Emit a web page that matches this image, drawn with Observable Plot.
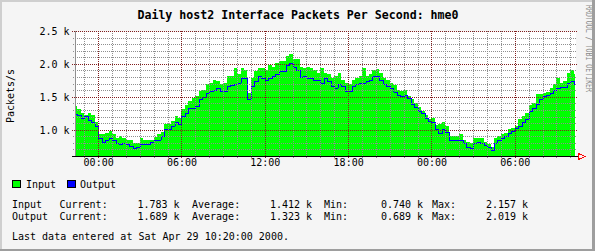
<!DOCTYPE html>
<html><head><meta charset="utf-8">
<script src="https://cdn.jsdelivr.net/npm/d3@7"></script>
<script src="https://cdn.jsdelivr.net/npm/@observablehq/plot@0.6"></script>
<style>html,body{margin:0;padding:0;background:#F5F5F5;} svg{display:block}</style>
</head><body><div id="chart"></div>
<script>
// ---- data ----
const title = "Daily host2 Interface Packets Per Second: hme0";
const yLabel = "Packets/s";
const watermark = "RRDTOOL / TOBI OETIKER";
const seriesNames = ["Input", "Output"];
const seriesColors = ["#00FF00", "#0000FF"];
const firstSample = new Date(2000, 3, 27, 22, 15);   // 15-minute samples
const sampleMinutes = 15;
const domainStart = new Date(2000, 3, 27, 22, 20);
const domainEnd = new Date(2000, 3, 29, 10, 20);
// packets per second, in thousands
const inputK = [
  1.36,1.31,1.26,1.23,1.26,1.23,1.11,0.93,0.93,0.95,0.98,0.93,0.88,0.90,0.88,0.85,
  0.84,0.80,0.80,0.88,0.85,0.84,0.85,0.89,0.93,0.97,1.08,1.08,1.13,1.21,1.18,1.31,
  1.38,1.43,1.48,1.51,1.59,1.61,1.69,1.71,1.75,1.74,1.69,1.71,1.81,1.81,1.94,1.84,
  1.94,1.91,1.56,1.79,1.89,1.94,1.94,1.91,1.99,1.96,2.02,2.04,2.04,2.12,2.157,2.07,
  2.07,1.96,1.94,1.96,1.94,1.91,1.86,1.94,1.86,1.84,1.79,1.81,1.86,1.76,1.71,1.69,
  1.76,1.79,1.81,1.94,1.81,1.85,1.91,1.93,1.86,1.79,1.76,1.71,1.68,1.61,1.59,
  1.60,1.51,1.46,1.41,1.34,1.28,1.23,1.17,1.18,1.07,1.08,1.11,1.06,0.90,0.90,0.90,
  0.93,0.85,0.82,0.80,0.87,0.88,0.87,0.82,0.79,0.74,0.87,0.90,0.93,0.95,1.01,1.03,
  1.06,1.16,1.21,1.26,1.38,1.41,1.54,1.54,1.56,1.58,1.64,1.70,1.78,1.71,1.74,1.86,
  1.90,1.84,1.78
];
const outputK = [
  1.24,1.22,1.18,1.21,1.14,1.11,1.06,0.88,0.82,0.85,0.88,0.85,0.80,0.79,0.80,0.78,
  0.75,0.72,0.74,0.79,0.78,0.79,0.82,0.84,0.85,0.90,1.01,1.01,1.06,1.11,1.09,1.21,
  1.26,1.33,1.33,1.36,1.46,1.49,1.56,1.59,1.60,1.64,1.59,1.59,1.66,1.68,1.69,1.71,
  1.79,1.79,1.46,1.66,1.74,1.81,1.79,1.76,1.79,1.81,1.85,1.89,1.89,1.98,2.019,1.95,
  1.91,1.80,1.81,1.79,1.79,1.75,1.76,1.71,1.79,1.74,1.66,1.64,1.69,1.66,1.59,1.59,
  1.66,1.69,1.71,1.71,1.74,1.76,1.81,1.81,1.76,1.70,1.66,1.64,1.58,1.53,1.51,
  1.53,1.48,1.39,1.34,1.28,1.26,1.18,1.13,1.11,1.01,0.95,1.01,0.97,0.85,0.85,0.84,
  0.84,0.80,0.74,0.72,0.80,0.82,0.80,0.77,0.74,0.69,0.80,0.85,0.88,0.90,0.95,0.98,
  1.03,1.06,1.11,1.16,1.28,1.33,1.39,1.46,1.51,1.53,1.56,1.60,1.64,1.65,1.65,1.71,
  1.74,1.69,1.69
];
const yMin = 0.6, yMax = 2.5;
const yMajorTicks = [1.0, 1.5, 2.0, 2.5];
const xMajorTicks = [new Date(2000,3,28,0), new Date(2000,3,28,6), new Date(2000,3,28,12),
                     new Date(2000,3,28,18), new Date(2000,3,29,0), new Date(2000,3,29,6)];
const xTickLabels = ["00:00","06:00","12:00","18:00","00:00","06:00"];
const statLabels = ["Current:", "Average:", "Min:", "Max:"];
const inputStats = ["1.783 k", "1.412 k", "0.740 k", "2.157 k"];
const outputStats = ["1.689 k", "1.323 k", "0.689 k", "2.019 k"];
const lastUpdate = "Last data entered at Sat Apr 29 10:20:00 2000.";

// ---- build ----
const data = inputK.map((v, i) => ({
  t: new Date(firstSample.getTime() + i * sampleMinutes * 60000),
  input: v, output: outputK[i]
}));
const yMinor = d3.range(Math.round(yMin*10), Math.round(yMax*10)+1).map(d => d/10)
  .filter(d => !yMajorTicks.some(m => Math.abs(m-d) < 1e-9));
const majorSet = new Set(xMajorTicks.map(d => +d));
const xMinor = d3.timeHour.range(domainStart, domainEnd).filter(d => !majorSet.has(+d));

const MONO = "DejaVu Sans Mono";
const GRID = "#8F8F8F", MGRID = "#821E1E";

const plot = Plot.plot({
  width: 595, height: 251,
  marginLeft: 75, marginRight: 20, marginTop: 31, marginBottom: 95,
  x: {type: "time", domain: [domainStart, domainEnd], axis: null},
  y: {domain: [yMin, yMax], axis: null},
  style: {background: "#F5F5F5", fontFamily: MONO, fontSize: "10px", color: "black", shapeRendering: "crispEdges"},
  marks: [
    Plot.frame({fill: "#FFFFFF", stroke: "none"}),
    Plot.areaY(data, {x: "t", y1: yMin, y2: "input", curve: "step-after", fill: seriesColors[0], clip: true}),
    Plot.lineY(data, {x: "t", y: "output", curve: "step-after", stroke: seriesColors[1], strokeWidth: 1, clip: true}),
    Plot.ruleY(yMinor, {y: d => d, stroke: GRID, strokeDasharray: "1,1", insetLeft: -2, insetRight: -2}),
    Plot.ruleX(xMinor, {x: d => d, stroke: GRID, strokeDasharray: "1,1", insetBottom: -3}),
    Plot.ruleY(yMajorTicks, {y: d => d, stroke: MGRID, strokeDasharray: "1,1", insetLeft: -3, insetRight: -3}),
    Plot.ruleX(xMajorTicks, {x: d => d, stroke: MGRID, strokeDasharray: "1,1", insetBottom: -3}),
    Plot.ruleX([domainStart], {x: d => d, stroke: "#8F8F8F"}),
    Plot.ruleY([yMin], {y: d => d, stroke: "#000000", insetLeft: -3, insetRight: -4}),
    Plot.text(yMajorTicks, {y: d => d, frameAnchor: "left", text: d => d.toFixed(1) + " k",
      textAnchor: "end", dx: -6, dy: 0.5, fontSize: 10, fontFamily: MONO, fill: "black"}),
    Plot.text(xMajorTicks, {x: d => d, frameAnchor: "bottom", text: (d, i) => xTickLabels[i],
      textAnchor: "middle", dy: 9, fontSize: 10, fontFamily: MONO, fill: "black"})
  ]
});
document.getElementById("chart").appendChild(plot);

const svg = d3.select(plot);
const xs = plot.scale("x"), ys = plot.scale("y");
const xr = xs.apply(domainEnd), yb = ys.apply(yMin) + 0.5;

// arrow at end of x axis
svg.append("path")
  .attr("d", `M${xr+3.5},${yb-3}L${xr+3.5},${yb+3}L${xr+10},${yb}Z`)
  .attr("fill", "none").attr("stroke", "#FF0000").attr("stroke-width", 1);

const txt = (x, y) => svg.append("text").attr("x", x).attr("y", y)
  .attr("text-anchor", "start").attr("font-family", MONO).attr("font-size", 10).attr("fill", "black");

// title
txt(298, 18.5).attr("text-anchor", "middle").attr("font-weight", "bold").attr("font-size", 11.6).text(title);

// y label
svg.append("text").attr("transform", "translate(14,96) rotate(-90)").attr("text-anchor", "middle")
  .attr("font-family", MONO).attr("font-size", 10).attr("fill", "black").text(yLabel);

// watermark
svg.append("text").attr("transform", "translate(585.5,5) rotate(90)").attr("text-anchor", "start")
  .attr("font-family", MONO).attr("font-size", 8).attr("fill", "#8A8A8A")
  .attr("textLength", 87).attr("lengthAdjust", "spacingAndGlyphs").text(watermark);

// legend
const legX = [12.5, 67.5], legTX = [26, 80];
seriesNames.forEach((n, i) => {
  svg.append("rect").attr("x", legX[i]).attr("y", 180.5).attr("width", 8).attr("height", 7)
    .attr("fill", seriesColors[i]).attr("stroke", "black");
  txt(legTX[i], 187.5).text(n);
});

// stats
const labelX = [59.5, 192, 324, 432], valueX = [137.5, 270, 381, 486];
[[seriesNames[0], inputStats, 207.5], [seriesNames[1], outputStats, 220]].forEach(([name, vals, y]) => {
  txt(12, y).text(name);
  statLabels.forEach((l, i) => {
    txt(labelX[i], y).text(l);
    txt(valueX[i], y).text(vals[i]);
  });
});
txt(12, 240).text(lastUpdate);

// 3D frame
svg.append("rect").attr("x", 0).attr("y", 0).attr("width", 595).attr("height", 2).attr("fill", "#CFCFCF");
svg.append("rect").attr("x", 0).attr("y", 0).attr("width", 2).attr("height", 251).attr("fill", "#CFCFCF");
svg.append("rect").attr("x", 0).attr("y", 249).attr("width", 595).attr("height", 2).attr("fill", "#9E9E9E");
svg.append("rect").attr("x", 592).attr("y", 0).attr("width", 3).attr("height", 251).attr("fill", "#9E9E9E");
</script>
</body></html>
